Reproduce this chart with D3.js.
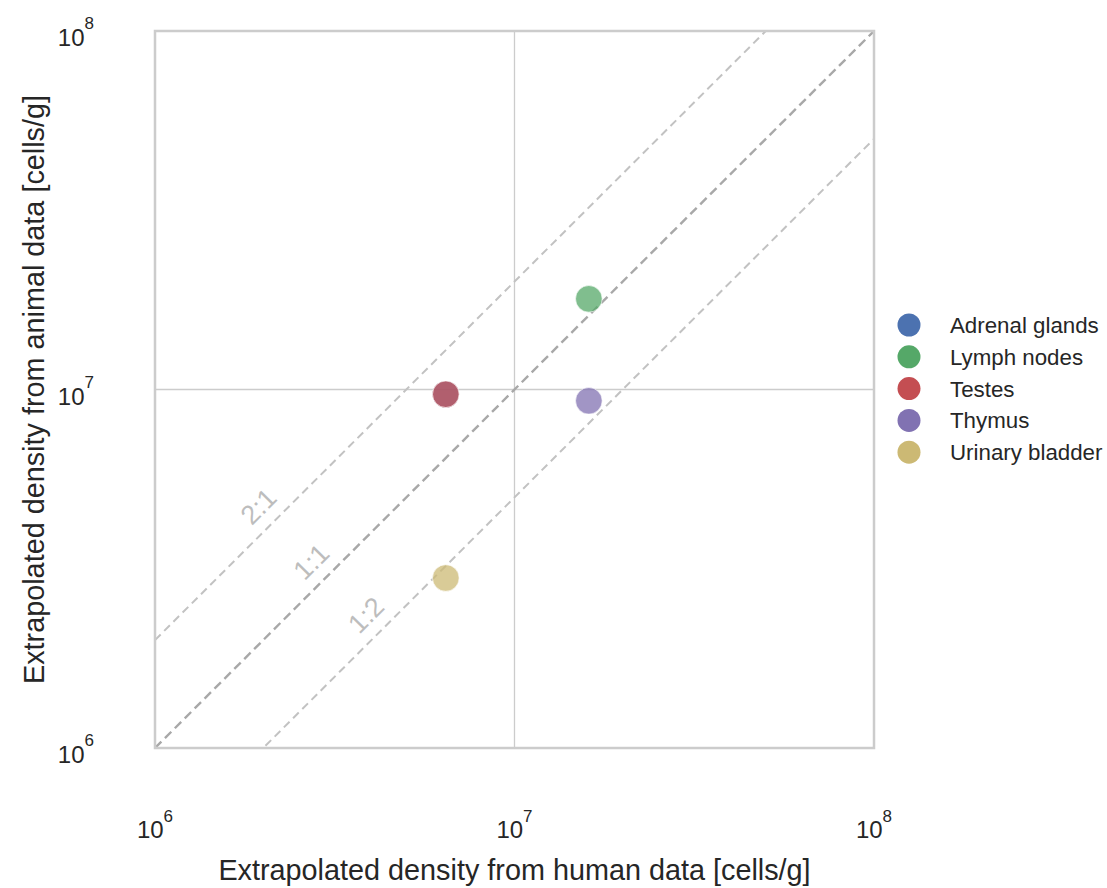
<!DOCTYPE html>
<html><head><meta charset="utf-8">
<script src="https://cdn.jsdelivr.net/npm/d3@7"></script>
<style>body{margin:0;background:#fff;font-family:Arial,"Liberation Sans",sans-serif;}</style>
</head><body><svg id="c" width="1107" height="888"></svg>
<script>
const categories = ["Adrenal glands","Lymph nodes","Testes","Thymus","Urinary bladder"];
const humanDensity = [6.44e6, 1.61e7, 6.44e6, 1.61e7, 6.44e6];
const animalDensity = [9.7e6, 1.79e7, 9.7e6, 9.3e6, 2.98e6];
const colors = ["#4C72B0","#55A868","#C44E52","#8172B2","#CCB974"];
const tickValues = [1e6, 1e7, 1e8];
const tickExponents = ["6","7","8"];
const ratioLines = [2, 1, 0.5];
const ratioLabels = ["2:1","1:1","1:2"];
const ratioLabelAt = [2.14e6, 3.0e6, 4.26e6]; // human-density value where each label sits

const svg = d3.select("#c");
const L=155, R=874, T=31, B=748;
const x = d3.scaleLog().domain([1e6,1e8]).range([L,R]);
const y = d3.scaleLog().domain([1e6,1e8]).range([B,T]);
const FONT = "Arial, 'Liberation Sans', sans-serif";
const TXT = "#262626";

svg.append("defs").append("clipPath").attr("id","clip")
  .append("rect").attr("x",L).attr("y",T).attr("width",R-L).attr("height",B-T);

// grid
const g = svg.append("g");
g.selectAll("line.gx").data(tickValues).enter().append("line")
  .attr("x1",d=>x(d)).attr("x2",d=>x(d)).attr("y1",T).attr("y2",B)
  .attr("stroke","#cccccc").attr("stroke-width",1.3);
g.selectAll("line.gy").data(tickValues).enter().append("line")
  .attr("y1",d=>y(d)).attr("y2",d=>y(d)).attr("x1",L).attr("x2",R)
  .attr("stroke","#cccccc").attr("stroke-width",1.3);

// ratio lines
const lg = svg.append("g").attr("clip-path","url(#clip)");
ratioLines.forEach((r,i)=>{
  lg.append("line")
    .attr("x1",x(1e6)).attr("y1",y(1e6*r))
    .attr("x2",x(1e8)).attr("y2",y(1e8*r))
    .attr("stroke", r===1 ? "#a8a8a8" : "#c2c2c2")
    .attr("stroke-width", r===1 ? 2.4 : 2)
    .attr("stroke-dasharray", r===1 ? "9,5" : "8,5");
});
// ratio labels
ratioLabels.forEach((t,i)=>{
  const hx = ratioLabelAt[i];
  const fx = x(hx), fy = y(hx*ratioLines[i]);
  const px = fx - 15.5, py = fy - 15.5;
  svg.append("text").attr("x",px).attr("y",py).attr("dy","0.36em")
    .attr("transform",`rotate(-45,${px},${py})`)
    .attr("text-anchor","middle").attr("font-size",27).attr("font-family",FONT)
    .attr("fill","#bdbdbd").text(t);
});

// frame
svg.append("rect").attr("x",L).attr("y",T).attr("width",R-L).attr("height",B-T)
  .attr("fill","none").attr("stroke","#cccccc").attr("stroke-width",2.5);

// points
const pts = categories.map((c,i)=>({c, h:humanDensity[i], a:animalDensity[i], col:colors[i]}))
  .filter(d=>d.h!=null && d.a!=null);
svg.append("g").attr("clip-path","url(#clip)").selectAll("circle").data(pts).enter().append("circle")
  .attr("cx",d=>x(d.h)).attr("cy",d=>y(d.a)).attr("r",13.3)
  .attr("fill",d=>d.col).attr("fill-opacity",0.75)
  .attr("stroke","#fff").attr("stroke-opacity",0.75).attr("stroke-width",0.8);

// x tick labels
tickValues.forEach((v,i)=>{
  const t = svg.append("text").attr("x",x(v)).attr("y",838).attr("text-anchor","middle")
    .attr("font-size",24).attr("font-family",FONT).attr("fill",TXT);
  t.append("tspan").text("10");
  t.append("tspan").attr("dy",-16).attr("font-size",17).text(tickExponents[i]);
});
// y tick labels
tickValues.forEach((v,i)=>{
  const t = svg.append("text").attr("x",94).attr("y",y(v)+15).attr("text-anchor","end")
    .attr("font-size",24).attr("font-family",FONT).attr("fill",TXT);
  t.append("tspan").text("10");
  t.append("tspan").attr("dy",-17).attr("font-size",17).text(tickExponents[i]);
});

// axis labels
svg.append("text").attr("x",(L+R)/2).attr("y",880).attr("text-anchor","middle")
  .attr("font-size",28.8).attr("font-family",FONT).attr("fill",TXT)
  .text("Extrapolated density from human data [cells/g]");
svg.append("text").attr("transform",`translate(44,${(T+B)/2}) rotate(-90)`)
  .attr("text-anchor","middle").attr("font-size",28.8).attr("font-family",FONT).attr("fill",TXT)
  .text("Extrapolated density from animal data [cells/g]");

// legend
const leg = svg.append("g");
categories.forEach((c,i)=>{
  const yy = 325 + i*31.8;
  leg.append("circle").attr("cx",909).attr("cy",yy).attr("r",11.5).attr("fill",colors[i]);
  leg.append("text").attr("x",950).attr("y",yy+8).attr("font-size",22.3).attr("font-family",FONT)
    .attr("fill",TXT).text(c);
});
</script></body></html>
